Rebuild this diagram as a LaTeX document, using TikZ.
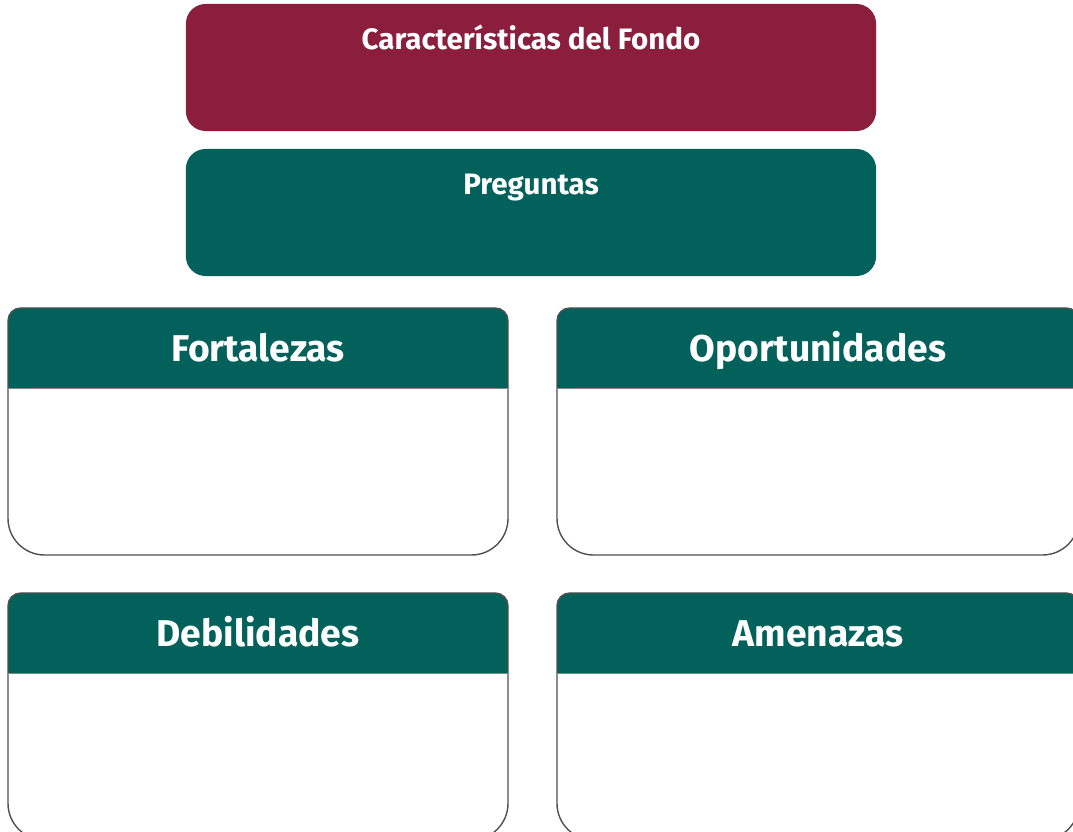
\documentclass[tikz,border=0pt]{standalone}
\usepackage{fontspec}
\setmainfont{Fira Sans}
\definecolor{vino}{HTML}{8A1E3C}
\definecolor{verde}{HTML}{03615B}
\definecolor{borde}{HTML}{505050}

\begin{document}
\begin{tikzpicture}[x=0.025cm, y=0.025cm, line width=1pt,
	caja/.style={minimum width=17.25cm, minimum height=3.175cm, rounded corners=14pt, inner sep=0pt},
	titulo/.style={text=white, font=\fontsize{21}{24}\selectfont\bfseries, inner sep=0pt, anchor=base},
	encabezado/.style={text=white, font=\fontsize{26.5}{30}\selectfont\bfseries, inner sep=0pt, anchor=base}]
	\useasboundingbox (0,0) rectangle (1073,-832);
	\clip (0,0) rectangle (1073,-832);
	% franjas superiores
	\node[caja, fill=vino] (caract) at (531,-67.5) {};
	\node[titulo] (caracttxt) at (531,-50) {Características del Fondo};
	\node[caja, fill=verde] (preg) at (531,-212.5) {};
	\node[titulo] (pregtxt) at (531,-195) {Preguntas};
	% Fortalezas
	\fill[verde] (8,-388) [rounded corners=9pt]-- (8,-308) -- (508,-308) [sharp corners]-- (508,-388) -- cycle;
	\draw[borde] (8,-450) [rounded corners=9pt]-- (8,-308) -- (508,-308) -- (508,-450) [rounded corners=26pt]-- (508,-555) -- (8,-555) [sharp corners]-- cycle;
	\draw[borde!70, line width=0.6pt] (8,-388) -- (508,-388);
	\node[encabezado] (fort) at (258,-362) {Fortalezas};
	% Oportunidades
	\fill[verde] (557,-388) [rounded corners=9pt]-- (557,-308) -- (1079,-308) [sharp corners]-- (1079,-388) -- cycle;
	\draw[borde] (557,-450) [rounded corners=9pt]-- (557,-308) -- (1079,-308) -- (1079,-450) [rounded corners=26pt]-- (1079,-555) -- (557,-555) [sharp corners]-- cycle;
	\draw[borde!70, line width=0.6pt] (557,-388) -- (1079,-388);
	\node[encabezado] (oport) at (818,-362) {Oportunidades};
	% Debilidades
	\fill[verde] (8,-673) [rounded corners=9pt]-- (8,-593) -- (508,-593) [sharp corners]-- (508,-673) -- cycle;
	\draw[borde] (8,-735) [rounded corners=9pt]-- (8,-593) -- (508,-593) -- (508,-735) [rounded corners=26pt]-- (508,-840) -- (8,-840) [sharp corners]-- cycle;
	\draw[borde!70, line width=0.6pt] (8,-673) -- (508,-673);
	\node[encabezado] (debil) at (258,-647) {Debilidades};
	% Amenazas
	\fill[verde] (557,-673) [rounded corners=9pt]-- (557,-593) -- (1079,-593) [sharp corners]-- (1079,-673) -- cycle;
	\draw[borde] (557,-735) [rounded corners=9pt]-- (557,-593) -- (1079,-593) -- (1079,-735) [rounded corners=26pt]-- (1079,-840) -- (557,-840) [sharp corners]-- cycle;
	\draw[borde!70, line width=0.6pt] (557,-673) -- (1079,-673);
	\node[encabezado] (amen) at (818,-647) {Amenazas};
\end{tikzpicture}
\end{document}
